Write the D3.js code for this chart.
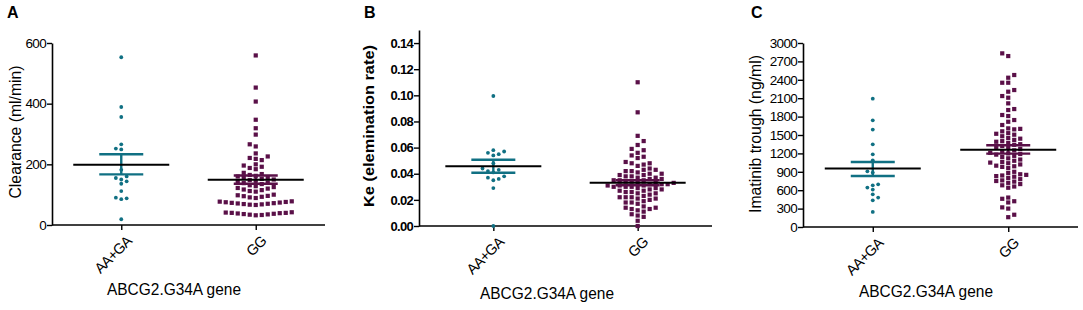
<!DOCTYPE html>
<html>
<head>
<meta charset="utf-8">
<script src="https://cdn.jsdelivr.net/npm/d3@7"></script>
<style>
  body { margin: 0; background: #fff; }
  svg { display: block; font-family: Arial, "Liberation Sans", sans-serif; }
</style>
</head>
<body>
<svg id="chart" width="1083" height="310"></svg>
<script>
// genotype groups (x categories)
var groups = ["AA+GA", "GG"];

// panel A : clearance (ml/min)
var clearanceAAGA = [553, 389, 356, 266, 252, 249, 182, 160, 155, 150, 144, 136, 112, 90, 88, 85, 19];
var clearanceGG = [559, 453, 407, 347, 319, 298, 266, 259, 236, 226, 221, 218, 214, 200, 196, 192, 188, 184,
  172, 168, 165, 162, 160, 158, 155, 152, 150, 148, 146, 143, 140, 138, 135, 131, 128, 125, 122, 120, 117,
  115, 112, 110, 100, 98, 96, 95, 93, 91, 89, 78, 77, 76, 75, 74, 73, 72, 71, 70, 69, 68, 67, 66,
  42, 41, 40, 40, 39, 38, 37, 36, 35, 34, 33, 32];
var clearanceMean = [199, 149];
var clearanceSemLow = [167, 136];
var clearanceSemHigh = [233, 163];
var clearanceTicks = [0, 200, 400, 600];

// panel B : Ke (elimination rate)
var keAAGA = [0.0995, 0.058, 0.057, 0.056, 0.055, 0.054, 0.048, 0.044, 0.043, 0.042, 0.041, 0.038, 0.037, 0.036, 0.035, 0.029, 0.000];
var keGG = [0.110, 0.087, 0.069, 0.065, 0.062, 0.059, 0.058, 0.056, 0.054, 0.053, 0.052, 0.049, 0.048, 0.048,
  0.047, 0.046, 0.044, 0.043, 0.043, 0.042, 0.042, 0.041, 0.040, 0.040, 0.039, 0.039, 0.038, 0.038, 0.037,
  0.037, 0.036, 0.036, 0.035, 0.035, 0.035, 0.034, 0.034, 0.033, 0.033, 0.033, 0.032, 0.032, 0.032, 0.031,
  0.031, 0.031, 0.030, 0.030, 0.030, 0.029, 0.029, 0.028, 0.028, 0.027, 0.027, 0.026, 0.026, 0.025, 0.025,
  0.024, 0.023, 0.022, 0.022, 0.022, 0.021, 0.021, 0.020, 0.019, 0.018, 0.018, 0.017, 0.015, 0.014, 0.014,
  0.013, 0.013, 0.012, 0.011, 0.009, 0.008, 0.007, 0.004, 0.000];
var keMean = [0.0457, 0.0331];
var keSemLow = [0.0408, 0.0312];
var keSemHigh = [0.0507, 0.0350];
var keTicks = [0, 0.02, 0.04, 0.06, 0.08, 0.10, 0.12, 0.14];

// panel C : imatinib trough (ng/ml)
var troughAAGA = [2093, 1739, 1588, 1348, 1185, 1087, 908, 887, 696, 680, 642, 610, 533, 479, 435, 245];
var troughGG = [2831, 2787, 2478, 2434, 2352, 2352, 2233, 2206, 2135, 2108, 2016, 1923, 1907, 1826, 1809,
  1744, 1716, 1663, 1608, 1600, 1592, 1560, 1530, 1520, 1505, 1480, 1450, 1440, 1420, 1400, 1390, 1370,
  1350, 1340, 1320, 1300, 1290, 1270, 1250, 1230, 1210, 1200, 1190, 1180, 1160, 1140, 1120, 1100, 1080,
  1060, 1050, 1040, 1020, 1000, 990, 980, 960, 900, 880, 860, 850, 840, 830, 820, 800, 780, 760, 750,
  740, 720, 700, 680, 660, 640, 480, 460, 420, 400, 320, 300, 200, 160];
var troughMean = [952, 1258];
var troughSemLow = [832, 1196];
var troughSemHigh = [1060, 1332];
var troughTicks = [0, 300, 600, 900, 1200, 1500, 1800, 2100, 2400, 2700, 3000];

var teal = "#107083";
var purple = "#5a1048";

var svg = d3.select("#chart");

var panels = [
  { letter: "A", lx: 7, left: 52, right: 325, bottom: 225, top: 43, domain: [0, 600],
    ticks: clearanceTicks, fmt: d3.format("d"), bold: false,
    ylabel: "Clearance (ml/min)", ylx: 15, yly: 132, yll: 133,
    tx: 174, ty: 295,
    sets: [clearanceAAGA, clearanceGG], mean: clearanceMean, lo: clearanceSemLow, hi: clearanceSemHigh },
  { letter: "B", lx: 364, left: 419, right: 712, bottom: 226, top: 30, domain: [0, 0.15],
    ticks: keTicks, fmt: d3.format(".2f"), bold: true,
    ylabel: "Ke (elemination rate)", ylx: 369, yly: 126, yll: 162,
    tx: 547, ty: 299,
    sets: [keAAGA, keGG], mean: keMean, lo: keSemLow, hi: keSemHigh },
  { letter: "C", lx: 751, left: 803, right: 1078, bottom: 227, top: 43, domain: [0, 3000],
    ticks: troughTicks, fmt: d3.format("d"), bold: false,
    ylabel: "Imatinib trough (ng/ml)", ylx: 755, yly: 134, yll: 158,
    tx: 926, ty: 297,
    sets: [troughAAGA, troughGG], mean: troughMean, lo: troughSemLow, hi: troughSemHigh }
];

// simple column scatter layout (points that overlap get pushed sideways)
function swarm(vals, y, step, d) {
  var pts = vals.map(function (v) { return { v: v, py: y(v), dx: 0 }; })
    .sort(function (a, b) { return a.v - b.v; });
  var placed = [];
  var flip = 1;
  pts.forEach(function (p) {
    for (var k = 0; k < 60; k++) {
      var cands = k === 0 ? [0] : [flip * k * step, -flip * k * step];
      var found = null;
      for (var c = 0; c < cands.length; c++) {
        var dx = cands[c];
        var hit = placed.some(function (q) {
          return Math.abs(q.py - p.py) < d && Math.abs(q.dx - dx) < step * 0.9;
        });
        if (!hit) { found = dx; break; }
      }
      if (found !== null) {
        p.dx = found;
        if (found !== 0) flip = -flip;
        break;
      }
    }
    placed.push(p);
  });
  return placed;
}

panels.forEach(function (P) {
  var g = svg.append("g");

  var x = d3.scalePoint().domain(groups).range([P.left, P.right]).padding(0.515);
  var y = d3.scaleLinear().domain(P.domain).range([P.bottom, P.top]);

  // panel letter
  g.append("text")
    .attr("x", P.lx).attr("y", 18)
    .style("font-size", "16px").style("font-weight", "bold")
    .text(P.letter);

  // y axis
  var ya = g.append("g")
    .attr("transform", "translate(" + P.left + ",0)")
    .call(d3.axisLeft(y).tickValues(P.ticks).tickFormat(P.fmt).tickSize(5).tickSizeOuter(0).tickPadding(1));
  ya.select(".domain").attr("stroke", "#000").attr("stroke-width", 1.6);
  ya.selectAll(".tick line").attr("stroke", "#000").attr("stroke-width", 1.4);
  ya.selectAll(".tick text")
    .attr("fill", "#000")
    .style("font-family", "Arial, 'Liberation Sans', sans-serif")
    .style("font-size", P.bold ? "13px" : "13.5px")
    .style("font-weight", P.bold ? "bold" : "normal")
    .style("letter-spacing", "-0.7px");

  // x axis
  var xa = g.append("g")
    .attr("transform", "translate(0," + P.bottom + ")")
    .call(d3.axisBottom(x).tickSize(5).tickSizeOuter(0));
  xa.select(".domain").attr("stroke", "#000").attr("stroke-width", 1.6)
    .attr("d", "M" + P.left + ",0H" + P.right);
  xa.selectAll(".tick line").attr("stroke", "#000").attr("stroke-width", 1.4);
  xa.selectAll(".tick text")
    .attr("fill", "#000")
    .style("font-family", "Arial, 'Liberation Sans', sans-serif")
    .style("font-size", "14.5px")
    .style("letter-spacing", "-0.6px")
    .attr("text-anchor", "end")
    .attr("y", 0).attr("dy", "0")
    .attr("transform", "translate(11,17) rotate(-45)");

  // y label
  g.append("text")
    .attr("transform", "translate(" + P.ylx + "," + P.yly + ") rotate(-90)")
    .attr("text-anchor", "middle")
    .attr("dy", "0.35em")
    .attr("textLength", P.yll)
    .attr("lengthAdjust", "spacingAndGlyphs")
    .style("font-size", P.bold ? "15.5px" : "16.5px")
    .style("font-weight", P.bold ? "bold" : "normal")
    .text(P.ylabel);

  // x title
  g.append("text")
    .attr("x", P.tx).attr("y", P.ty)
    .attr("text-anchor", "middle")
    .attr("textLength", 134)
    .attr("lengthAdjust", "spacingAndGlyphs")
    .style("font-size", "16.5px")
    .text("ABCG2.G34A gene");

  // points
  P.sets.forEach(function (vals, i) {
    var cx = x(groups[i]);
    if (i === 0) {
      var pts = swarm(vals, y, 5.4, 4.2);
      g.append("g").selectAll("circle")
        .data(pts).enter().append("circle")
        .attr("cx", function (d) { return cx + d.dx; })
        .attr("cy", function (d) { return d.py; })
        .attr("r", 1.9)
        .attr("fill", teal);
    } else {
      var pts2 = swarm(vals, y, 6, 4.6);
      g.append("g").selectAll("rect")
        .data(pts2).enter().append("rect")
        .attr("x", function (d) { return cx + d.dx - 2.1; })
        .attr("y", function (d) { return d.py - 2.1; })
        .attr("width", 4.2).attr("height", 4.2)
        .attr("fill", purple);
    }
  });

  // SEM bars
  groups.forEach(function (gr, i) {
    var cx = x(gr);
    var col = i === 0 ? teal : purple;
    var sem = g.append("g").attr("stroke", col).attr("stroke-width", 2.4);
    sem.append("line").attr("x1", cx).attr("x2", cx).attr("y1", y(P.lo[i])).attr("y2", y(P.hi[i]));
    sem.append("line").attr("x1", cx - 22).attr("x2", cx + 22).attr("y1", y(P.lo[i])).attr("y2", y(P.lo[i]));
    sem.append("line").attr("x1", cx - 22).attr("x2", cx + 22).attr("y1", y(P.hi[i])).attr("y2", y(P.hi[i]));
  });

  // mean lines
  g.append("g").selectAll("line")
    .data(P.mean).enter().append("line")
    .attr("x1", function (d, i) { return x(groups[i]) - 48; })
    .attr("x2", function (d, i) { return x(groups[i]) + 48; })
    .attr("y1", function (d) { return y(d); })
    .attr("y2", function (d) { return y(d); })
    .attr("stroke", "#000")
    .attr("stroke-width", 2);
});
</script>
</body>
</html>
